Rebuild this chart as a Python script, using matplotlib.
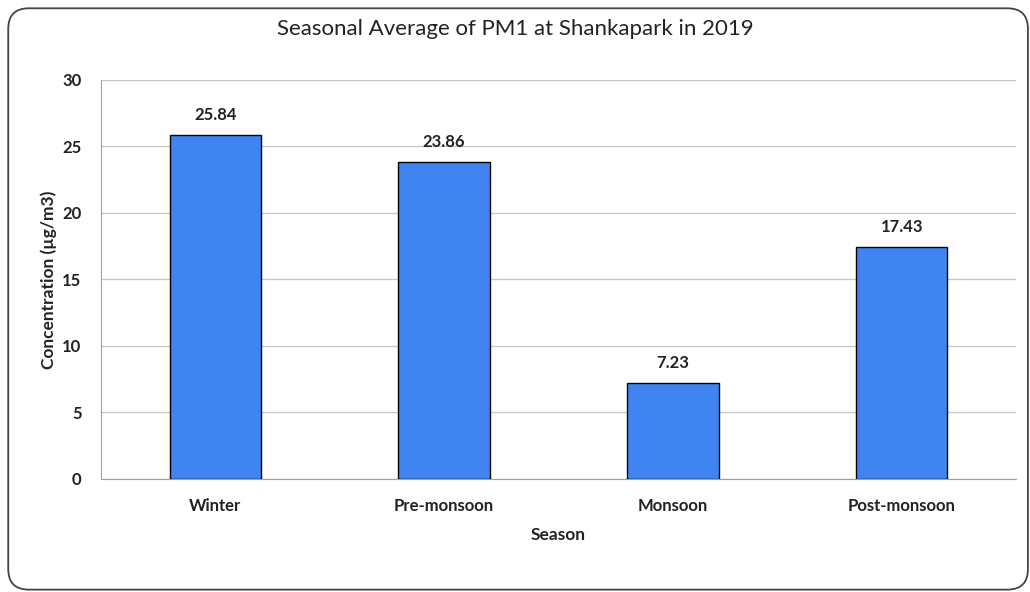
import matplotlib.pyplot as plt
from matplotlib.patches import FancyBboxPatch

seasons = ["Winter", "Pre-monsoon", "Monsoon", "Post-monsoon"]
pm1 = [25.84, 23.86, 7.23, 17.43]
yticks = [0, 5, 10, 15, 20, 25, 30]

plt.rcParams["font.family"] = ["Lato", "DejaVu Sans"]

fig = plt.figure(figsize=(10.3, 5.92), dpi=100)
ax = fig.add_axes([0.098, 0.191, 0.8884, 0.674])

# outer chart border
border = FancyBboxPatch((0.008, 0.004), 0.99, 0.982,
                        boxstyle="round,pad=0,rounding_size=0.02",
                        transform=fig.transFigure, fill=False,
                        edgecolor="#444444", linewidth=1.3,
                        mutation_aspect=1.74)
fig.patches.append(border)

bars = ax.bar(seasons, pm1, width=0.4, color="#4084F2",
              edgecolor="black", linewidth=1.0, zorder=3)
for b, v in zip(bars, pm1):
    ax.text(b.get_x() + b.get_width() / 2, v + 0.9, f"{v:.2f}",
            ha="center", va="bottom", fontsize=12, fontweight="bold",
            color="#222222")

ax.set_ylim(0, 30)
ax.set_xlim(-0.5, 3.5)
ax.set_yticks(yticks)
ax.grid(axis="y", color="#c8c8c8", linewidth=1.0, zorder=0)
for s in ["top", "right"]:
    ax.spines[s].set_visible(False)
ax.spines["left"].set_color("#a0a0a0")
ax.spines["bottom"].set_color("#a0a0a0")
ax.tick_params(axis="x", length=0, pad=14, labelsize=12, labelcolor="#222222")
ax.tick_params(axis="y", length=0, pad=14, labelsize=12, labelcolor="#222222")
for lab in ax.get_xticklabels() + ax.get_yticklabels():
    lab.set_fontweight("bold")

ax.set_xlabel("Season", fontsize=12.5, fontweight="bold", labelpad=9,
              color="#222222")
ax.set_ylabel("Concentration (µg/m3)", fontsize=12.5, fontweight="bold",
              labelpad=4, color="#222222")
fig.text(0.5, 0.951, "Seasonal Average of PM1 at Shankapark in 2019",
         ha="center", va="center", fontsize=16, color="#222222")

plt.savefig("out.png", dpi=100)
